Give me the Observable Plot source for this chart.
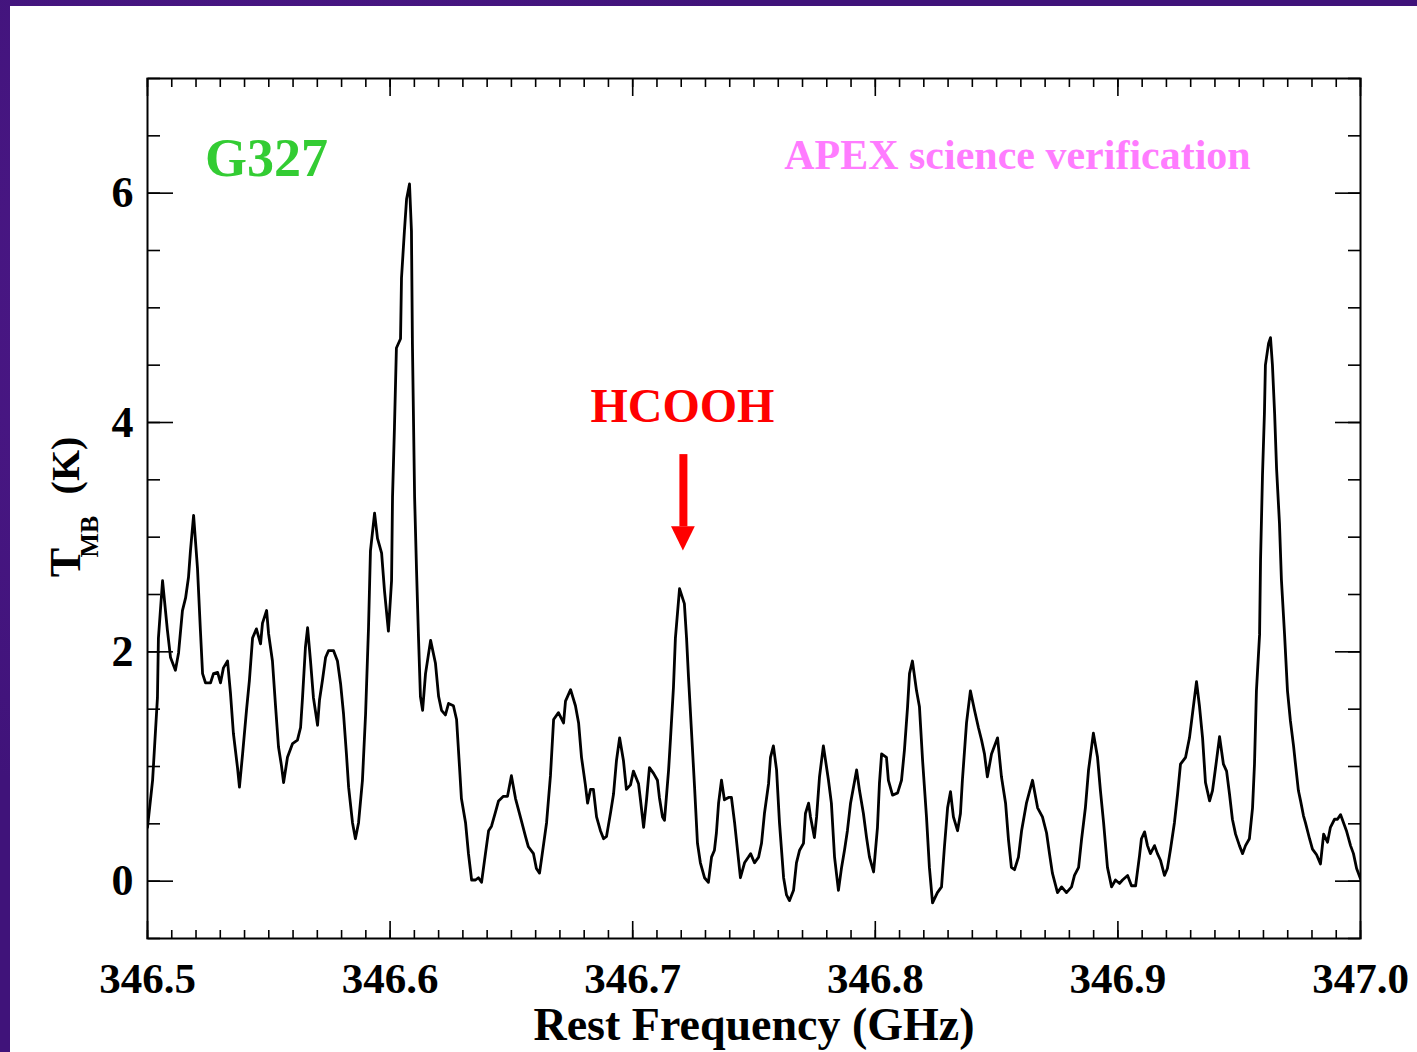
<!DOCTYPE html>
<html><head><meta charset="utf-8">
<script src="https://cdn.jsdelivr.net/npm/d3@7"></script>
<script src="https://cdn.jsdelivr.net/npm/@observablehq/plot@0.6"></script>
<style>
html,body{margin:0;padding:0;}
body{width:1417px;height:1052px;overflow:hidden;position:relative;
 background:#40137a;
 background-image:radial-gradient(circle at 20% 30%, rgba(90,30,150,0.6), rgba(40,10,90,0) 40%),
                  radial-gradient(circle at 80% 80%, rgba(30,5,70,0.6), rgba(40,10,90,0) 45%);}
#panel{position:absolute;left:10px;top:6px;width:1407px;height:1046px;background:#fff;}
#panel svg{display:block;}
</style></head><body><div id="panel"></div>
<script>
// ---- data (Rest frequency in GHz, T_MB in K) ----
const spec1 = [[346.5000,0.47],[346.5021,0.88],[346.5041,1.60],[346.5045,2.12],[346.5062,2.62],[346.5082,2.19],[346.5095,1.95],[346.5115,1.84],[346.5128,1.99],[346.5144,2.36],[346.5157,2.47],[346.5169,2.65],[346.5177,2.88],[346.5190,3.19],[346.5206,2.73],[346.5218,2.19],[346.5227,1.81],[346.5239,1.73],[346.5260,1.73],[346.5272,1.81],[346.5289,1.82],[346.5301,1.73],[346.5313,1.86],[346.5330,1.92],[346.5342,1.64],[346.5354,1.29],[346.5371,0.99],[346.5379,0.82],[346.5392,1.11],[346.5408,1.49],[346.5420,1.75],[346.5433,2.12],[346.5449,2.20],[346.5466,2.07],[346.5474,2.25],[346.5491,2.36],[346.5499,2.16],[346.5515,1.92],[346.5528,1.52],[346.5540,1.17],[346.5552,1.01],[346.5561,0.86],[346.5577,1.08],[346.5598,1.20],[346.5618,1.23],[346.5631,1.34],[346.5639,1.60],[346.5651,2.04],[346.5660,2.21],[346.5672,1.92],[346.5684,1.60],[346.5701,1.36],[346.5709,1.58],[346.5721,1.75],[346.5734,1.95],[346.5746,2.01],[346.5767,2.01],[346.5783,1.92],[346.5796,1.72],[346.5808,1.46],[346.5820,1.11],[346.5829,0.82],[346.5845,0.51],[346.5857,0.37],[346.5870,0.51],[346.5886,0.88],[346.5899,1.46],[346.5911,2.21],[346.5919,2.88],[346.5936,3.21],[346.5948,2.99],[346.5965,2.86],[346.5977,2.53],[346.5993,2.18]];
const spec2 = [[346.6006,2.62],[346.6010,3.35],[346.6018,3.96],[346.6026,4.65],[346.6043,4.73],[346.6047,5.26],[346.6059,5.67],[346.6068,5.95],[346.6080,6.08],[346.6088,5.67],[346.6092,4.69],[346.6101,3.35],[346.6109,2.71],[346.6117,2.13],[346.6125,1.61],[346.6134,1.49],[346.6146,1.81],[346.6167,2.10],[346.6187,1.90],[346.6200,1.61],[346.6212,1.49],[346.6228,1.45],[346.6241,1.55],[346.6261,1.53],[346.6274,1.41],[346.6286,1.00],[346.6294,0.72],[346.6311,0.51],[346.6323,0.24],[346.6336,0.01],[346.6352,0.01],[346.6364,0.03],[346.6377,-0.01],[346.6393,0.24],[346.6406,0.44],[346.6418,0.48],[346.6434,0.60],[346.6447,0.70],[346.6467,0.74],[346.6484,0.74],[346.6500,0.92],[346.6517,0.72],[346.6537,0.56],[346.6558,0.39],[346.6570,0.30],[346.6591,0.24],[346.6603,0.11],[346.6616,0.07],[346.6624,0.19],[346.6645,0.51],[346.6661,0.92],[346.6674,1.41],[346.6694,1.47],[346.6715,1.38],[346.6723,1.57],[346.6744,1.67],[346.6764,1.53],[346.6777,1.38],[346.6789,1.08],[346.6805,0.84],[346.6814,0.68],[346.6826,0.80],[346.6838,0.80],[346.6851,0.56],[346.6867,0.44],[346.6880,0.37],[346.6892,0.39],[346.6909,0.60],[346.6921,0.76],[346.6933,1.05],[346.6946,1.25],[346.6962,1.05],[346.6974,0.80],[346.6991,0.84],[346.7003,0.96]];
const spec3 = [[346.7024,0.85],[346.7032,0.71],[346.7045,0.47],[346.7057,0.71],[346.7069,0.99],[346.7086,0.94],[346.7102,0.88],[346.7110,0.73],[346.7123,0.56],[346.7131,0.53],[346.7148,0.97],[346.7156,1.25],[346.7168,1.69],[346.7176,2.12],[346.7193,2.55],[346.7213,2.42],[346.7222,2.12],[346.7230,1.78],[346.7242,1.32],[346.7255,0.82],[346.7267,0.33],[346.7279,0.16],[346.7296,0.03],[346.7312,-0.01],[346.7325,0.21],[346.7337,0.27],[346.7345,0.42],[346.7354,0.68],[346.7366,0.88],[346.7378,0.71],[346.7395,0.73],[346.7407,0.73],[346.7420,0.51],[346.7432,0.27],[346.7444,0.03],[346.7461,0.16],[346.7477,0.21],[346.7486,0.24],[346.7502,0.16],[346.7519,0.21],[346.7531,0.33],[346.7543,0.59],[346.7560,0.85],[346.7568,1.08],[346.7580,1.18],[346.7593,0.97],[346.7605,0.51],[346.7622,0.03],[346.7634,-0.12],[346.7646,-0.17],[346.7663,-0.08],[346.7675,0.16],[346.7688,0.27],[346.7704,0.33],[346.7712,0.59],[346.7725,0.68],[346.7733,0.56],[346.7749,0.38],[346.7758,0.56],[346.7770,0.91],[346.7786,1.18],[346.7807,0.88],[346.7819,0.68],[346.7832,0.21],[346.7848,-0.08],[346.7861,0.12],[346.7873,0.27],[346.7885,0.44],[346.7898,0.68],[346.7923,0.97],[346.7935,0.79],[346.7951,0.59],[346.7964,0.38],[346.7976,0.21],[346.7993,0.08]];
const spec4 = [[346.8009,0.47],[346.8017,0.85],[346.8026,1.11],[346.8046,1.08],[346.8054,0.88],[346.8071,0.75],[346.8092,0.77],[346.8108,0.88],[346.8120,1.14],[346.8133,1.52],[346.8141,1.81],[346.8153,1.92],[346.8170,1.66],[346.8182,1.52],[346.8195,1.05],[346.8211,0.56],[346.8223,0.12],[346.8236,-0.19],[346.8256,-0.10],[346.8273,-0.05],[346.8285,0.30],[346.8298,0.64],[346.8310,0.78],[346.8322,0.56],[346.8339,0.44],[346.8351,0.59],[346.8359,0.88],[346.8376,1.38],[346.8392,1.66],[346.8409,1.49],[346.8425,1.34],[346.8438,1.23],[346.8450,1.11],[346.8462,0.91],[346.8479,1.11],[346.8504,1.25],[346.8520,0.91],[346.8537,0.68],[346.8549,0.36],[346.8561,0.12],[346.8574,0.10],[346.8590,0.21],[346.8603,0.44],[346.8623,0.68],[346.8648,0.88],[346.8669,0.64],[346.8689,0.56],[346.8706,0.42],[346.8718,0.24],[346.8730,0.07],[346.8751,-0.10],[346.8768,-0.05],[346.8788,-0.10],[346.8809,-0.05],[346.8821,0.05],[346.8838,0.12],[346.8850,0.36],[346.8866,0.64],[346.8879,0.97],[346.8899,1.29],[346.8916,1.08],[346.8928,0.79],[346.8941,0.51],[346.8957,0.12],[346.8974,-0.05],[346.8990,0.01],[346.9007,-0.02]];
const spec5 = [[346.9019,0.01],[346.9040,0.05],[346.9056,-0.04],[346.9073,-0.04],[346.9089,0.22],[346.9097,0.37],[346.9110,0.43],[346.9122,0.31],[346.9134,0.24],[346.9151,0.31],[346.9163,0.24],[346.9176,0.18],[346.9192,0.05],[346.9204,0.11],[346.9217,0.28],[346.9233,0.51],[346.9246,0.76],[346.9258,1.02],[346.9279,1.08],[346.9295,1.25],[346.9308,1.47],[346.9324,1.74],[346.9336,1.53],[346.9349,1.25],[346.9361,0.86],[346.9378,0.70],[346.9390,0.79],[346.9402,0.98],[346.9419,1.26],[346.9435,1.02],[346.9448,0.96],[346.9460,0.76],[346.9472,0.54],[346.9485,0.41],[346.9501,0.31],[346.9514,0.24],[346.9526,0.31],[346.9542,0.37],[346.9555,0.64],[346.9563,1.02],[346.9571,1.66],[346.9584,2.15],[346.9588,2.80],[346.9596,3.54],[346.9604,4.08],[346.9608,4.50],[346.9621,4.69],[346.9629,4.74],[346.9637,4.50],[346.9646,4.08],[346.9654,3.60],[346.9666,3.12],[346.9674,2.63],[346.9687,2.15],[346.9699,1.66],[346.9711,1.40],[346.9724,1.18],[346.9732,1.02],[346.9744,0.79],[346.9753,0.70],[346.9765,0.57],[346.9773,0.51],[346.9790,0.37],[346.9802,0.28],[346.9819,0.23],[346.9835,0.15],[346.9848,0.41],[346.9864,0.34],[346.9876,0.47],[346.9893,0.54],[346.9905,0.54],[346.9918,0.58],[346.9930,0.51],[346.9942,0.44],[346.9959,0.31],[346.9971,0.24],[346.9984,0.11],[347.0000,0.02]];

const xTicks = [346.5, 346.6, 346.7, 346.8, 346.9, 347.0];
const xTickLabels = ["346.5", "346.6", "346.7", "346.8", "346.9", "347.0"];
const yTicks = [0, 2, 4, 6];
const yTickLabels = ["0", "2", "4", "6"];
const xMinor = d3.range(0, 51).map(i => 346.5 + i * 0.01);
const yMinor = d3.range(-1, 15).map(i => i * 0.5);

const sourceLabel = {text: "G327", f: 346.5491, t: 6.30};
const projectLabel = {text: "APEX science verification", f: 346.8586, t: 6.33};
const lineLabel = {text: "HCOOH", f: 346.7205, t: 4.14};
const arrowShaft = {f: 346.7209, t1: 3.72, t2: 3.09};
const arrowHead = [{f: 346.7160, t1: 3.09, t2: 3.09}, {f: 346.7209, t1: 2.88, t2: 3.09}, {f: 346.7258, t1: 3.09, t2: 3.09}];
const xTitle = "Rest Frequency (GHz)";

// ---- chart ----
const spectrum = [...spec1, ...spec2, ...spec3, ...spec4, ...spec5].map(([f, t]) => ({f, t}));
const W = 1407, H = 1046, mL = 137, mR = 57, mT = 72, mB = 114;
const iw = W - mL - mR, ih = H - mT - mB;
const axisFont = '"Liberation Serif", "Times New Roman", serif';
const annFont = '"Liberation Serif", "Times New Roman", serif';
const fmtX = d => xTickLabels[xTicks.findIndex(v => Math.abs(v - d) < 1e-6)];
const fmtY = d => yTickLabels[yTicks.indexOf(d)];
const blank = () => "";
const tk = {label: null, tickFormat: blank, stroke: "black", strokeWidth: 1.6};

const chart = Plot.plot({
  width: W, height: H,
  marginLeft: mL, marginRight: mR, marginTop: mT, marginBottom: mB,
  style: {background: "white", color: "black", fontFamily: axisFont, fontWeight: "bold", overflow: "visible"},
  x: {domain: [346.5, 347.0], label: null},
  y: {domain: [-0.5, 7], label: null},
  marks: [
    // tick labels
    Plot.axisX(xTicks, {anchor: "bottom", tickSize: 0, tickPadding: 24, tickFormat: fmtX, fontSize: 43, label: null}),
    Plot.axisY(yTicks, {anchor: "left", tickSize: 0, tickPadding: 14, tickFormat: fmtY, fontSize: 44, label: null}),
    // inward ticks, bottom edge
    Plot.axisX(xMinor, {...tk, anchor: "top", tickSize: 9, dy: ih}),
    Plot.axisX(xTicks, {...tk, anchor: "top", tickSize: 18, dy: ih}),
    // inward ticks, top edge
    Plot.axisX(xMinor, {...tk, anchor: "bottom", tickSize: 9, dy: -ih}),
    Plot.axisX(xTicks, {...tk, anchor: "bottom", tickSize: 18, dy: -ih}),
    // inward ticks, left edge
    Plot.axisY(yMinor, {...tk, anchor: "right", tickSize: 12, dx: -iw}),
    Plot.axisY(yTicks, {...tk, anchor: "right", tickSize: 25, dx: -iw}),
    // inward ticks, right edge
    Plot.axisY(yMinor, {...tk, anchor: "left", tickSize: 12, dx: iw}),
    Plot.axisY(yTicks, {...tk, anchor: "left", tickSize: 25, dx: iw}),
    Plot.frame({stroke: "black", strokeWidth: 2}),
    // spectrum
    Plot.line(spectrum, {x: "f", y: "t", stroke: "black", strokeWidth: 2.8, clip: true}),
    // annotations
    Plot.text([sourceLabel], {x: "f", y: "t", text: "text", fill: "#33cc33", fontSize: 54, fontFamily: annFont, fontWeight: "bold"}),
    Plot.text([projectLabel], {x: "f", y: "t", text: "text", fill: "#ff7cff", fontSize: 42, fontFamily: annFont, fontWeight: "bold"}),
    Plot.text([lineLabel], {x: "f", y: "t", text: "text", fill: "#ff0000", fontSize: 48, fontFamily: annFont, fontWeight: "bold"}),
    Plot.ruleX([arrowShaft], {x: "f", y1: "t1", y2: "t2", stroke: "#ff0000", strokeWidth: 8}),
    Plot.areaY(arrowHead, {x: "f", y1: "t1", y2: "t2", fill: "#ff0000"}),
    // axis titles
    Plot.text([xTitle], {frameAnchor: "bottom", dy: 87, textAnchor: "middle", lineAnchor: "middle", text: d => d, fontSize: 46}),
    Plot.text(["T"], {frameAnchor: "left", dx: -82, dy: 54, rotate: -90, textAnchor: "middle", lineAnchor: "middle", text: d => d, fontSize: 44}),
    Plot.text(["MB"], {frameAnchor: "left", dx: -58, dy: 28, rotate: -90, textAnchor: "middle", lineAnchor: "middle", text: d => d, fontSize: 26}),
    Plot.text(["(K)"], {frameAnchor: "left", dx: -81, dy: -43, rotate: -90, textAnchor: "middle", lineAnchor: "middle", text: d => d, fontSize: 40})
  ]
});
document.getElementById("panel").appendChild(chart);
</script>
</body></html>
